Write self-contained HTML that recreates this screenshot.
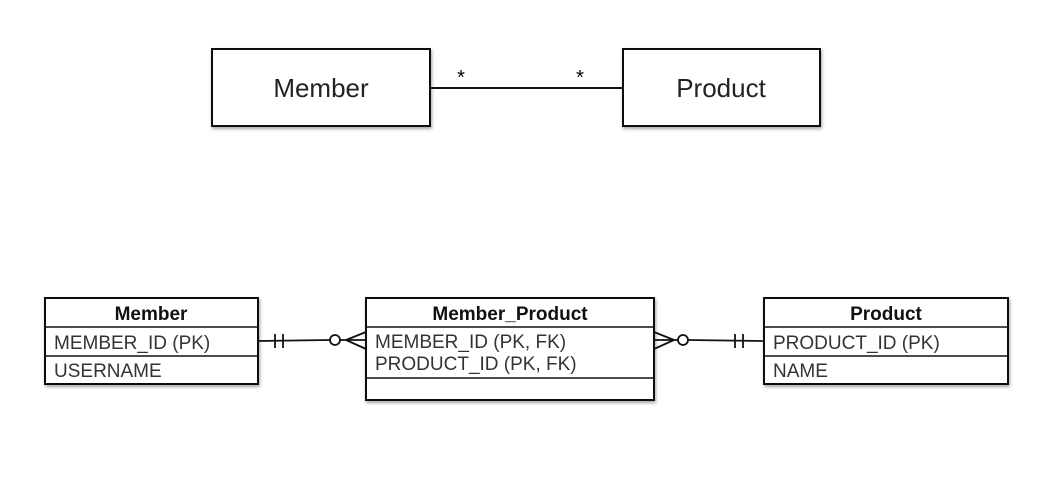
<!DOCTYPE html>
<html><head><style>
body{margin:0;background:#fff;}
svg text{font-family:"Liberation Sans",sans-serif;}
</style></head><body>
<svg width="1063" height="488" viewBox="0 0 1063 488" xmlns="http://www.w3.org/2000/svg">
<defs><filter id="s" x="-5%" y="-5%" width="110%" height="120%"><feDropShadow dx="1" dy="2" stdDeviation="1.5" flood-color="#000" flood-opacity="0.35"/></filter></defs>
<g fill="#fff" stroke="#111" stroke-width="2" filter="url(#s)">
<rect x="212" y="49" width="218" height="77"/>
<rect x="623" y="49" width="197" height="77"/>
</g>
<text x="321" y="97" font-size="26" text-anchor="middle" fill="#222">Member</text>
<text x="721" y="97" font-size="26" text-anchor="middle" fill="#222">Product</text>
<line x1="430" y1="88" x2="623" y2="88" stroke="#111" stroke-width="2"/>
<text x="461" y="84" font-size="20" text-anchor="middle">*</text>
<text x="580" y="84" font-size="20" text-anchor="middle">*</text>

<g fill="#fff" stroke="#111" stroke-width="2" filter="url(#s)">
<rect x="45" y="298" width="213" height="86"/>
<rect x="366" y="298" width="288" height="102"/>
<rect x="764" y="298" width="244" height="86"/>
</g>
<g stroke="#111" stroke-width="1.5">
<line x1="45" y1="327" x2="258" y2="327"/><line x1="45" y1="356" x2="258" y2="356"/>
<line x1="366" y1="327" x2="654" y2="327"/><line x1="366" y1="378" x2="654" y2="378"/>
<line x1="764" y1="327" x2="1008" y2="327"/><line x1="764" y1="356" x2="1008" y2="356"/>
</g>
<g font-size="19" font-weight="bold" text-anchor="middle" fill="#111">
<text x="151" y="320">Member</text>
<text x="510" y="320">Member_Product</text>
<text x="886" y="320">Product</text>
</g>
<g font-size="19" fill="#333">
<text x="54" y="349">MEMBER_ID (PK)</text>
<text x="54" y="377">USERNAME</text>
<text x="375" y="348">MEMBER_ID (PK, FK)</text>
<text x="375" y="370">PRODUCT_ID (PK, FK)</text>
<text x="773" y="349">PRODUCT_ID (PK)</text>
<text x="773" y="377">NAME</text>
</g>
<g stroke="#111" stroke-width="1.8" fill="none">
<line x1="258" y1="341" x2="330" y2="340"/>
<line x1="275" y1="334" x2="275" y2="348"/><line x1="283" y1="334" x2="283" y2="348"/>
<circle cx="335" cy="340" r="5" fill="#fff"/>
<line x1="340" y1="340" x2="366" y2="340"/>
<line x1="346" y1="340" x2="366" y2="332"/><line x1="346" y1="340" x2="366" y2="349"/>
<line x1="654" y1="340" x2="678" y2="340"/>
<line x1="674" y1="340" x2="654" y2="332"/><line x1="674" y1="340" x2="654" y2="349"/>
<circle cx="683" cy="340" r="5" fill="#fff"/>
<line x1="688" y1="340" x2="764" y2="341"/>
<line x1="735" y1="334" x2="735" y2="348"/><line x1="743" y1="334" x2="743" y2="348"/>
</g>
</svg>
</body></html>
